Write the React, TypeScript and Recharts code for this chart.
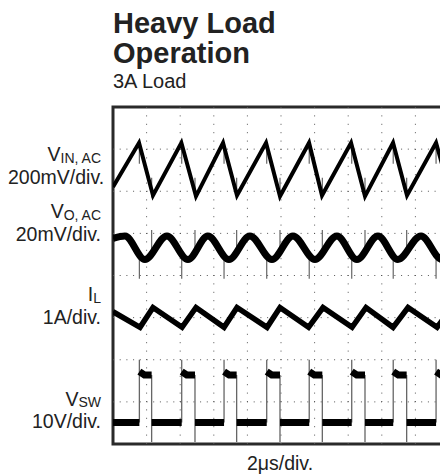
import { LineChart, Line, XAxis, YAxis, ReferenceLine, ReferenceArea } from "recharts";

// scope grid: 10 x 2µs horizontally, 8 divisions vertically
const timeTicks = [2, 4, 6, 8, 10, 12, 14, 16, 18];
const divTicks = [1, 2, 3, 4, 5, 6, 7];

// all trace values are screen positions in divisions (0 = bottom, 8 = top), time in µs
const vinTimes = [0, 1.55, 2.38, 4.07, 4.94, 6.55, 7.38, 9.11, 9.94, 11.67, 12.44, 14.17, 15.0, 16.67, 17.5, 19.23, 20];
const vinValues = [6.1, 7.15, 5.9, 7.15, 5.88, 7.15, 5.9, 7.15, 5.88, 7.15, 5.9, 7.15, 5.88, 7.15, 5.9, 7.15, 6.05];

const voTimes = [0, 0.71, 1.9, 3.21, 4.46, 5.65, 6.9, 8.15, 9.46, 10.71, 12.02, 13.33, 14.52, 15.77, 16.96, 18.33, 19.58, 20];
const voValues = [4.88, 4.94, 4.38, 4.94, 4.38, 4.94, 4.38, 4.94, 4.38, 4.94, 4.38, 4.94, 4.38, 4.94, 4.38, 4.94, 4.38, 4.46];

const ilTimes = [0, 1.61, 2.38, 4.11, 4.94, 6.61, 7.38, 9.17, 9.94, 11.64, 12.5, 14.23, 15.06, 16.67, 17.56, 19.29, 20];
const ilValues = [3.14, 2.77, 3.24, 2.77, 3.24, 2.77, 3.24, 2.77, 3.24, 2.77, 3.24, 2.77, 3.24, 2.77, 3.24, 2.77, 3.15];

const swRise = [1.57, 4.09, 6.61, 9.15, 11.68, 14.21, 16.68, 19.23];
const swFall = [2.3, 4.88, 7.36, 9.94, 12.46, 15.0, 17.48];
const swLow = 0.51;
const swHigh = 1.64;
const swHighStart = 1.72;
const swSettle = 0.3;
const swOvershoot = 2.0;
const swUndershoot = 0.05;

// switching spikes (low, high) on the AC traces
const vinSpikeRise = [6.65, 7.1];
const vinSpikeFall = [5.85, 6.32];
const voSpikeRise = [3.92, 4.56];
const voSpikeFall = [4.6, 5.08];

type Pt = { t: number; v: number | null };

const zip = (ts: number[], vs: number[]): Pt[] => ts.map((t, i) => ({ t, v: vs[i] }));

const spikes = (times: number[], range: number[]): Pt[] =>
  times.flatMap((t) => [
    { t, v: range[0] },
    { t, v: range[1] },
    { t, v: null },
  ]);

function switchLevels(): Pt[] {
  const pts: Pt[] = [{ t: 0, v: swLow }];
  swRise.forEach((r, i) => {
    pts.push({ t: r, v: swLow }, { t: r, v: null }, { t: r, v: swHighStart }, { t: r + swSettle, v: swHigh });
    const f = swFall[i];
    if (f != null) pts.push({ t: f, v: swHigh }, { t: f, v: null }, { t: f, v: swLow });
    else pts.push({ t: 20, v: swHigh });
  });
  return pts;
}

const switchEdges: Pt[] = [
  ...swRise.flatMap((r) => [
    { t: r, v: swLow },
    { t: r, v: swOvershoot },
    { t: r, v: null },
  ]),
  ...swFall.flatMap((f) => [
    { t: f, v: swHigh },
    { t: f, v: swUndershoot },
    { t: f, v: null },
  ]),
];

const vinData = zip(vinTimes, vinValues);
const voData = zip(voTimes, voValues);
const ilData = zip(ilTimes, ilValues);
const vinSpikes = [...spikes(swRise, vinSpikeRise), ...spikes(swFall, vinSpikeFall)];
const voSpikes = [...spikes(swRise, voSpikeRise), ...spikes(swFall, voSpikeFall)];
const swLevels = switchLevels();

const font = '"Liberation Sans", Arial, Helvetica, sans-serif';

const labelStyle: React.CSSProperties = {
  position: "absolute",
  left: 0,
  width: 93,
  textAlign: "right",
  fontSize: 19.5,
  lineHeight: "20px",
  color: "#222",
  whiteSpace: "nowrap",
};

const subStyle: React.CSSProperties = { fontSize: 14, position: "relative", top: 1.5 };

function Label({ top, name, sub, scale }: { top: number; name: string; sub: string; scale: string }) {
  return (
    <>
      <div style={{ ...labelStyle, top }}>
        {name}
        <span style={subStyle}>{sub}</span>
      </div>
      <div style={{ ...labelStyle, top: top + 22.5 }}>{scale}</div>
    </>
  );
}

export default function App() {
  return (
    <div
      style={{
        position: "relative",
        width: 440,
        height: 468,
        overflow: "hidden",
        fontFamily: font,
        color: "#222",
      }}
    >
      <div style={{ position: "absolute", left: 105, top: -0.4, fontSize: 29, lineHeight: "30px", fontWeight: 700 }}>
        Heavy Load
        <br />
        Operation
      </div>
      <div style={{ position: "absolute", left: 105, top: 63, fontSize: 20, lineHeight: "20px" }}>3A Load</div>

      <Label top={136.2} name="V" sub="IN, AC" scale="200mV/div." />
      <Label top={193.2} name="V" sub="O, AC" scale="20mV/div." />
      <Label top={276.2} name="I" sub="L" scale="1A/div." />
      <Label top={380.7} name="V" sub="SW" scale="10V/div." />

      <div
        style={{
          position: "absolute",
          left: 172,
          width: 200,
          top: 445.2,
          textAlign: "center",
          fontSize: 19.5,
          lineHeight: "20px",
        }}
      >
        2μs/div.
      </div>

      <div style={{ position: "absolute", left: 0, top: 0 }}>
        <LineChart width={460} height={440} margin={{ top: 99, right: 19, bottom: 4, left: 105 }}>
          <XAxis type="number" dataKey="t" domain={[0, 20]} hide allowDataOverflow />
          <YAxis type="number" domain={[0, 8]} hide allowDataOverflow />
          {timeTicks.map((t) => (
            <ReferenceLine key={`x${t}`} x={t} stroke="#555" strokeWidth={1} strokeDasharray="1 7.4" />
          ))}
          {divTicks.map((d) => (
            <ReferenceLine key={`y${d}`} y={d} stroke="#555" strokeWidth={1} strokeDasharray="1 5.7" />
          ))}
          <ReferenceArea x1={0} x2={20} y1={0} y2={8} fill="none" stroke="#2a2a2a" strokeWidth={3} />

          <Line data={vinSpikes} dataKey="v" stroke="#666" strokeWidth={1.2} dot={false} isAnimationActive={false} />
          <Line data={vinData} dataKey="v" type="linear" stroke="#000" strokeWidth={4} dot={false} isAnimationActive={false} />

          <Line data={voSpikes} dataKey="v" stroke="#666" strokeWidth={1.2} dot={false} isAnimationActive={false} />
          <Line data={voData} dataKey="v" type="monotone" stroke="#000" strokeWidth={7} dot={false} isAnimationActive={false} />

          <Line data={ilData} dataKey="v" type="linear" stroke="#000" strokeWidth={5.5} dot={false} isAnimationActive={false} />

          <Line data={switchEdges} dataKey="v" stroke="#666" strokeWidth={1.3} dot={false} isAnimationActive={false} />
          <Line data={swLevels} dataKey="v" type="linear" stroke="#000" strokeWidth={7} dot={false} isAnimationActive={false} />
        </LineChart>
      </div>
    </div>
  );
}
